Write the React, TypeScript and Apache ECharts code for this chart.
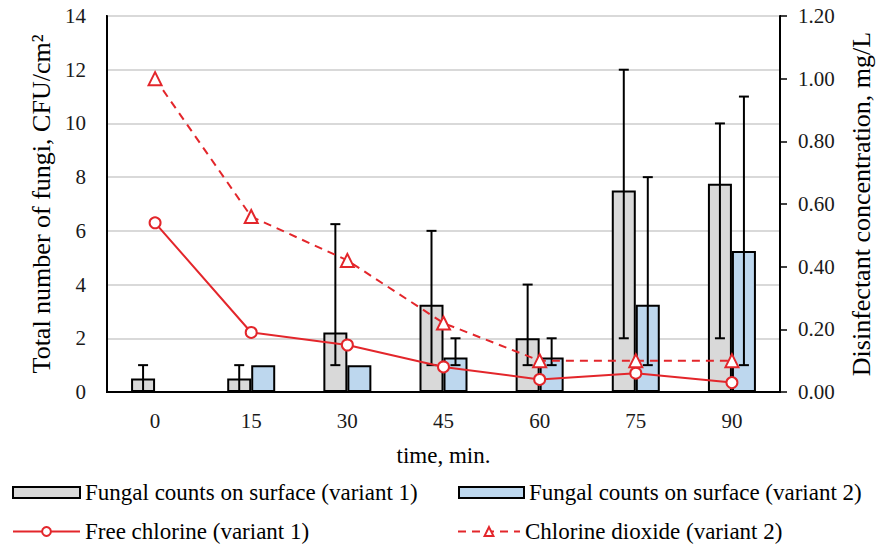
import React, { useEffect, useRef } from "react";
import * as echarts from "echarts";

const categories = ["0", "15", "30", "45", "60", "75", "90"];
const fungiV1 = [0.5, 0.5, 2.22, 3.25, 2.0, 7.5, 7.75];
const fungiV2 = [0, 1.0, 1.0, 1.28, 1.28, 3.25, 5.25];
const errV1Low = [0, 0, 1, 1, 1, 2, 2];
const errV1High = [1, 1, 6.25, 6, 4, 12, 10];
const errV2Low: (number | null)[] = [null, null, null, 1, 1, 1, 1];
const errV2High: (number | null)[] = [null, null, null, 2, 2, 8, 11];
const freeChlorine = [0.54, 0.19, 0.15, 0.08, 0.04, 0.06, 0.03];
const chlorineDioxide = [1.0, 0.56, 0.42, 0.22, 0.1, 0.1, 0.1];

const NAME_V1 = "Fungal counts on surface (variant 1)";
const NAME_V2 = "Fungal counts on surface (variant 2)";
const NAME_FC = "Free chlorine (variant 1)";
const NAME_CD = "Chlorine dioxide (variant 2)";

const FONT = "'Liberation Serif', 'Times New Roman', serif";
const RED = "#e3262b";

function errData(lo: (number | null)[], hi: (number | null)[]) {
  const out: number[][] = [];
  lo.forEach((l, i) => {
    const h = hi[i];
    if (l !== null && h !== null) out.push([i, l, h]);
  });
  return out;
}

function errSeries(name: string, data: number[][], offset: number) {
  return {
    name,
    type: "custom",
    z: 3,
    data,
    encode: { x: 0, y: [1, 2] },
    renderItem: (params: any, api: any) => {
      const idx = api.value(0);
      const lo = api.coord([idx, api.value(1)]);
      const hi = api.coord([idx, api.value(2)]);
      const x = lo[0] + offset;
      const st = { stroke: "#000", lineWidth: 2 };
      return {
        type: "group",
        children: [
          { type: "line", shape: { x1: x, y1: lo[1], x2: x, y2: hi[1] }, style: st },
          { type: "line", shape: { x1: x - 5, y1: hi[1], x2: x + 5, y2: hi[1] }, style: st },
          { type: "line", shape: { x1: x - 5, y1: lo[1], x2: x + 5, y2: lo[1] }, style: st },
        ],
      };
    },
  };
}

export default function App() {
  const ref = useRef<HTMLDivElement>(null);
  useEffect(() => {
    document.body.style.margin = "0";
    if (!ref.current) return;
    const chart = echarts.init(ref.current, undefined, { renderer: "svg" });
    const legendText = { fontFamily: FONT, fontSize: 23, color: "#000" };
    const legendBase = { padding: 0, itemHeight: 11, textStyle: legendText, selectedMode: false };
    chart.setOption({
      animation: false,
      backgroundColor: "#fff",
      textStyle: { fontFamily: FONT },
      grid: {
        left: 107,
        right: 98,
        top: 16,
        bottom: 153,
        show: true,
        borderColor: "#000",
        borderWidth: 2,
        containLabel: false,
      },
      legend: [
        { ...legendBase, data: [{ name: NAME_V1, icon: "rect" }], left: 12, top: 481, itemWidth: 67 },
        { ...legendBase, data: [{ name: NAME_V2, icon: "rect" }], left: 458, top: 481, itemWidth: 65 },
        { ...legendBase, data: [NAME_FC], left: 12, top: 520, itemWidth: 67 },
        { ...legendBase, data: [NAME_CD], left: 457, top: 520, itemWidth: 62 },
      ],
      xAxis: {
        type: "category",
        data: categories,
        boundaryGap: true,
        axisLine: { show: true, lineStyle: { color: "#000", width: 2 } },
        axisTick: { show: false },
        axisLabel: { fontFamily: FONT, fontSize: 21, color: "#1a1a1a", margin: 18 },
        name: "time, min.",
        nameLocation: "middle",
        nameGap: 52,
        nameTextStyle: { fontFamily: FONT, fontSize: 23, color: "#000" },
      },
      yAxis: [
        {
          type: "value",
          min: 0,
          max: 14,
          interval: 2,
          axisLine: { show: true, lineStyle: { color: "#000", width: 2 } },
          axisTick: { show: false },
          splitLine: { show: true, lineStyle: { color: "#d9d9d9", width: 2 } },
          axisLabel: { fontFamily: FONT, fontSize: 21, color: "#1a1a1a", margin: 21 },
          name: "Total number of fungi, CFU/cm²",
          nameLocation: "middle",
          nameGap: 52,
          nameTextStyle: { fontFamily: FONT, fontSize: 26, color: "#000" },
        },
        {
          type: "value",
          min: 0,
          max: 1.2,
          interval: 0.2,
          position: "right",
          axisLine: { show: true, lineStyle: { color: "#000", width: 2 } },
          axisTick: { show: true, inside: false, length: 7, lineStyle: { color: "#000", width: 1.5 } },
          splitLine: { show: false },
          axisLabel: {
            fontFamily: FONT,
            fontSize: 21,
            color: "#1a1a1a",
            margin: 18,
            formatter: (v: number) => v.toFixed(2),
          },
          name: "Disinfectant concentration, mg/L",
          nameLocation: "middle",
          nameGap: 68,
          nameRotate: 90,
          nameTextStyle: { fontFamily: FONT, fontSize: 26, color: "#000" },
        },
      ],
      series: [
        {
          name: NAME_V1,
          type: "bar",
          data: fungiV1,
          barWidth: 24,
          barGap: "0%",
          itemStyle: { color: "#d9d9d9", borderColor: "#000", borderWidth: 2 },
          z: 2,
        },
        {
          name: NAME_V2,
          type: "bar",
          data: fungiV2,
          barWidth: 24,
          barGap: "0%",
          itemStyle: { color: "#bdd7ee", borderColor: "#000", borderWidth: 2 },
          z: 2,
        },
        errSeries("err1", errData(errV1Low, errV1High), -12),
        errSeries("err2", errData(errV2Low, errV2High), 12),
        {
          name: NAME_FC,
          type: "line",
          yAxisIndex: 1,
          data: freeChlorine,
          symbol: "emptyCircle",
          symbolSize: 11,
          z: 5,
          lineStyle: { color: RED, width: 2 },
          itemStyle: { color: RED, borderWidth: 2 },
        },
        {
          name: NAME_CD,
          type: "line",
          yAxisIndex: 1,
          data: chlorineDioxide,
          symbol: "emptyTriangle",
          symbolSize: 13,
          z: 5,
          lineStyle: { color: RED, width: 2, type: [8, 6] },
          itemStyle: { color: RED, borderWidth: 2 },
        },
      ],
    });
    return () => chart.dispose();
  }, []);
  return <div ref={ref} style={{ width: 882, height: 545 }} />;
}
